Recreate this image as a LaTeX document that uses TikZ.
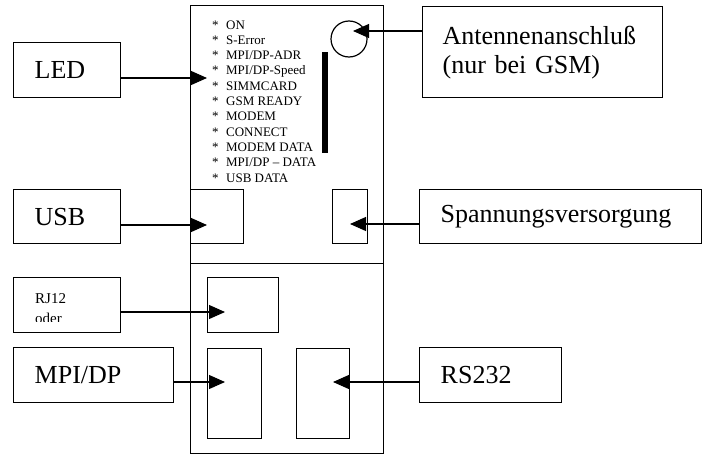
\documentclass[tikz,border=0pt]{standalone}
\usepackage{fontspec}
\setmainfont{Liberation Serif}
\usetikzlibrary{arrows.meta}
\def\bigtxt{\fontsize{26}{29}\selectfont}
\def\smalltxt{\fontsize{13}{15}\selectfont}

\begin{document}
\begin{tikzpicture}[x=1pt,y=-1pt,
  tag/.style={draw,line width=1.4pt,anchor=north west,inner xsep=21pt,inner ysep=0pt,align=left,font=\bigtxt},
  port/.style={draw,line width=1.2pt,anchor=north west,inner sep=0pt},
  conn/.style={line width=1.1pt,-{Triangle[length=16pt,width=14pt]}}]
\useasboundingbox (0,0) rectangle (704,455);
% Geraet
\node[port,line width=1.4pt,minimum width=193pt,minimum height=258pt] (oben) at (190,5) {};
\node[port,line width=1.4pt,minimum width=193pt,minimum height=190pt] (unten) at (190,263) {};
\node[port,minimum width=53pt,minimum height=54pt] (usbport) at (190,189) {};
\node[port,minimum width=35pt,minimum height=54pt] (pwrport) at (332,189) {};
\node[port,minimum width=71pt,minimum height=55pt] (rjport) at (207,277) {};
\node[port,minimum width=54pt,minimum height=90pt] (mpiport) at (207,348) {};
\node[port,minimum width=53pt,minimum height=90pt] (rsport) at (296,348) {};
\node[draw,circle,line width=1.2pt,minimum size=36pt,inner sep=0pt] (antenne) at (349,39) {};
\fill (322,52) rectangle (328,153);
\foreach \txt [count=\i from 0] in {ON,S-Error,MPI/DP-ADR,MPI/DP-Speed,SIMMCARD,GSM READY,MODEM,CONNECT,MODEM DATA,MPI/DP – DATA,USB DATA}
  {\node[anchor=base west,inner sep=0pt,font=\smalltxt] (item\i) at (212,29+15.3*\i) {\makebox[14pt][l]{*}\txt};}
% Beschriftungen
\node[tag,text width=65pt,minimum height=55pt] (led) at (13,42) {LED};
\node[tag,text width=65pt,minimum height=54pt] (usb) at (13,189) {USB};
\node[tag,text width=65pt,minimum height=55pt] (rj) at (13,277) {};
\begin{scope}
\clip (13,277) rectangle (120,321.5);
\node[anchor=base west,inner sep=0pt,font=\fontsize{15}{18}\selectfont] (rjA) at (35,303) {RJ12};
\node[anchor=base west,inner sep=0pt,font=\fontsize{15}{18}\selectfont] (rjB) at (35,323) {oder};
\end{scope}
\node[tag,text width=118pt,minimum height=55pt] (mpi) at (13,347) {MPI/DP};
\node[tag,text width=240pt,minimum height=54pt] (pwr) at (419,189) {Spannungsversorgung};
\node[tag,text width=100pt,minimum height=55pt] (rs) at (419,347) {RS232};
\node[tag,inner xsep=20pt,text width=200pt,minimum height=91pt] (ant) at (422,6) {Antennenanschluß\\(nur bei GSM)};
% Pfeile
\coordinate (ledtip) at (207,78);
\coordinate (usbtip) at (207,225);
\coordinate (rjtip) at (225,312);
\coordinate (mpitip) at (225,382);
\coordinate (pwrtip) at (350,224);
\coordinate (rstip) at (333,382);
\coordinate (anttip) at (353,31);
\draw[conn] (led.east |- ledtip) -- (ledtip);
\draw[conn] (usb.east |- usbtip) -- (usbtip);
\draw[conn] (rj.east |- rjtip) -- (rjtip);
\draw[conn] (mpi.east |- mpitip) -- (mpitip);
\draw[conn] (pwr.west |- pwrtip) -- (pwrtip);
\draw[conn] (rs.west |- rstip) -- (rstip);
\draw[conn] (ant.west |- anttip) -- (anttip);
\end{tikzpicture}
\end{document}
